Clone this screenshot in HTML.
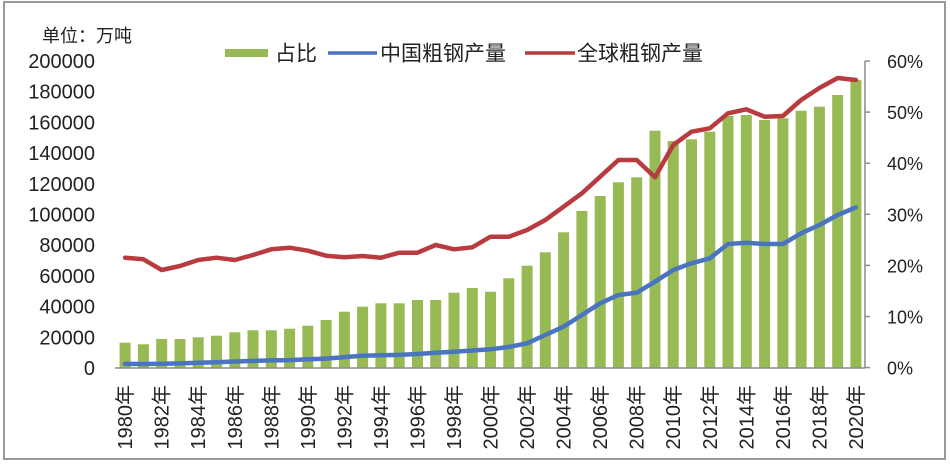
<!DOCTYPE html>
<html>
<head>
<meta charset="utf-8">
<style>
  html,body{margin:0;padding:0;background:#fff;}
  svg{display:block;}
  text{font-family:"Liberation Sans","Noto Sans CJK SC",sans-serif;fill:#222;}
</style>
</head>
<body>
<svg width="950" height="464" viewBox="0 0 950 464" xmlns="http://www.w3.org/2000/svg">
  <rect x="0" y="0" width="950" height="464" fill="#fff"/>
  <rect x="4" y="2" width="941" height="457" fill="#fff" stroke="#9a9a9a" stroke-width="2"/>

  <text x="42" y="42" font-size="18">单位：万吨</text>

  <rect x="225" y="49" width="43" height="8" fill="#97ba55"/>
  <text x="275" y="60.5" font-size="21">占比</text>
  <line x1="328" y1="53" x2="377" y2="53" stroke="#4a74c0" stroke-width="3.5"/>
  <text x="380" y="60.5" font-size="21">中国粗钢产量</text>
  <line x1="525" y1="53" x2="575" y2="53" stroke="#b83c3f" stroke-width="3.5"/>
  <text x="577" y="60.5" font-size="21">全球粗钢产量</text>

  <g font-size="20" text-anchor="end">
    <text x="95" y="68">200000</text>
    <text x="95" y="98.7">180000</text>
    <text x="95" y="129.4">160000</text>
    <text x="95" y="160.1">140000</text>
    <text x="95" y="190.8">120000</text>
    <text x="95" y="221.5">100000</text>
    <text x="95" y="252.2">80000</text>
    <text x="95" y="282.9">60000</text>
    <text x="95" y="313.6">40000</text>
    <text x="95" y="344.3">20000</text>
    <text x="95" y="375">0</text>
  </g>

  <g font-size="18">
    <text x="887" y="68">60%</text>
    <text x="887" y="119.1">50%</text>
    <text x="887" y="170.2">40%</text>
    <text x="887" y="221.3">30%</text>
    <text x="887" y="272.4">20%</text>
    <text x="887" y="323.5">10%</text>
    <text x="887" y="374.6">0%</text>
  </g>

  <g stroke="#8c8c8c" stroke-width="1.5">
    <line x1="865" y1="61" x2="865" y2="368"/>
    <line x1="865" y1="61" x2="870" y2="61"/>
    <line x1="865" y1="112.1" x2="870" y2="112.1"/>
    <line x1="865" y1="163.2" x2="870" y2="163.2"/>
    <line x1="865" y1="214.3" x2="870" y2="214.3"/>
    <line x1="865" y1="265.4" x2="870" y2="265.4"/>
    <line x1="865" y1="316.5" x2="870" y2="316.5"/>
    <line x1="865" y1="367.6" x2="870" y2="367.6"/>
  </g>

  <g fill="#97ba55">
    <rect x="119.6" y="342.7" width="11" height="25.3"/>
    <rect x="137.9" y="344.3" width="11" height="23.7"/>
    <rect x="156.2" y="339" width="11" height="29"/>
    <rect x="174.5" y="339" width="11" height="29"/>
    <rect x="192.7" y="337.3" width="11" height="30.7"/>
    <rect x="211.0" y="335.7" width="11" height="32.3"/>
    <rect x="229.3" y="332.3" width="11" height="35.7"/>
    <rect x="247.5" y="330.3" width="11" height="37.7"/>
    <rect x="265.8" y="330.3" width="11" height="37.7"/>
    <rect x="284.1" y="328.7" width="11" height="39.3"/>
    <rect x="302.3" y="325.7" width="11" height="42.3"/>
    <rect x="320.6" y="320" width="11" height="48"/>
    <rect x="338.9" y="311.7" width="11" height="56.3"/>
    <rect x="357.1" y="306.7" width="11" height="61.3"/>
    <rect x="375.4" y="303.3" width="11" height="64.7"/>
    <rect x="393.7" y="303.3" width="11" height="64.7"/>
    <rect x="412.0" y="300" width="11" height="68"/>
    <rect x="430.2" y="300" width="11" height="68"/>
    <rect x="448.5" y="292.7" width="11" height="75.3"/>
    <rect x="466.8" y="288" width="11" height="80"/>
    <rect x="485.0" y="291.7" width="11" height="76.3"/>
    <rect x="503.3" y="278.3" width="11" height="89.7"/>
    <rect x="521.6" y="265.7" width="11" height="102.3"/>
    <rect x="539.8" y="252.3" width="11" height="115.7"/>
    <rect x="558.1" y="232.3" width="11" height="135.7"/>
    <rect x="576.4" y="211" width="11" height="157"/>
    <rect x="594.7" y="196" width="11" height="172"/>
    <rect x="612.9" y="182.3" width="11" height="185.7"/>
    <rect x="631.2" y="177.3" width="11" height="190.7"/>
    <rect x="649.5" y="130.7" width="11" height="237.3"/>
    <rect x="667.7" y="141" width="11" height="227"/>
    <rect x="686.0" y="139.3" width="11" height="228.7"/>
    <rect x="704.3" y="131.7" width="11" height="236.3"/>
    <rect x="722.5" y="116" width="11" height="252"/>
    <rect x="740.8" y="115" width="11" height="253"/>
    <rect x="759.1" y="120" width="11" height="248"/>
    <rect x="777.4" y="118.3" width="11" height="249.7"/>
    <rect x="795.6" y="110.7" width="11" height="257.3"/>
    <rect x="813.9" y="106.7" width="11" height="261.3"/>
    <rect x="832.2" y="95" width="11" height="273"/>
    <rect x="850.4" y="80" width="11" height="288"/>
  </g>

  <line x1="115" y1="368" x2="865" y2="368" stroke="#8c8c8c" stroke-width="1.5"/>

  <polyline fill="none" stroke="#4a74c0" stroke-width="4.5" stroke-linejoin="round" stroke-linecap="round"
    points="125.1,363.8 143.4,364 161.7,363.8 180.0,363.4 198.2,362.8 216.5,362.3 234.8,361.5 253.0,360.9 271.3,360.4 289.6,360.1 307.8,359.3 326.1,358.6 344.4,357.1 362.6,355.8 380.9,355.3 399.2,354.9 417.5,354 435.7,352.8 454.0,351.8 472.3,350.5 490.5,349.3 508.8,347 527.1,343.3 545.3,335 563.6,326.7 581.9,315 600.2,303.3 618.4,295 636.7,292.7 655.0,281.7 673.2,270 691.5,263.3 709.8,258.3 728.0,244 746.3,242.7 764.6,244 782.9,244 801.1,233.3 819.4,225 837.7,215 855.9,207.3"/>

  <polyline fill="none" stroke="#b83c3f" stroke-width="4.5" stroke-linejoin="round" stroke-linecap="round"
    points="125.1,257.7 143.4,259.3 161.7,270 180.0,266 198.2,260 216.5,257.7 234.8,260 253.0,255 271.3,249.3 289.6,247.7 307.8,250.7 326.1,255.7 344.4,257.3 362.6,256 380.9,257.7 399.2,252.7 417.5,252.7 435.7,245 454.0,249.3 472.3,247.3 490.5,236.7 508.8,236.7 527.1,230 545.3,220 563.6,206.7 581.9,193.3 600.2,176.7 618.4,160 636.7,160 655.0,177.3 673.2,145 691.5,131.7 709.8,128.3 728.0,113.3 746.3,109.3 764.6,116.7 782.9,116 801.1,100 819.4,88 837.7,78 855.9,80"/>

  <g font-size="20" text-anchor="end">
    <text transform="translate(125.1,385) rotate(-90)" x="0" y="7">1980年</text>
    <text transform="translate(161.7,385) rotate(-90)" x="0" y="7">1982年</text>
    <text transform="translate(198.2,385) rotate(-90)" x="0" y="7">1984年</text>
    <text transform="translate(234.8,385) rotate(-90)" x="0" y="7">1986年</text>
    <text transform="translate(271.3,385) rotate(-90)" x="0" y="7">1988年</text>
    <text transform="translate(307.8,385) rotate(-90)" x="0" y="7">1990年</text>
    <text transform="translate(344.4,385) rotate(-90)" x="0" y="7">1992年</text>
    <text transform="translate(380.9,385) rotate(-90)" x="0" y="7">1994年</text>
    <text transform="translate(417.5,385) rotate(-90)" x="0" y="7">1996年</text>
    <text transform="translate(454.0,385) rotate(-90)" x="0" y="7">1998年</text>
    <text transform="translate(490.5,385) rotate(-90)" x="0" y="7">2000年</text>
    <text transform="translate(527.1,385) rotate(-90)" x="0" y="7">2002年</text>
    <text transform="translate(563.6,385) rotate(-90)" x="0" y="7">2004年</text>
    <text transform="translate(600.2,385) rotate(-90)" x="0" y="7">2006年</text>
    <text transform="translate(636.7,385) rotate(-90)" x="0" y="7">2008年</text>
    <text transform="translate(673.2,385) rotate(-90)" x="0" y="7">2010年</text>
    <text transform="translate(709.8,385) rotate(-90)" x="0" y="7">2012年</text>
    <text transform="translate(746.3,385) rotate(-90)" x="0" y="7">2014年</text>
    <text transform="translate(782.9,385) rotate(-90)" x="0" y="7">2016年</text>
    <text transform="translate(819.4,385) rotate(-90)" x="0" y="7">2018年</text>
    <text transform="translate(855.9,385) rotate(-90)" x="0" y="7">2020年</text>
  </g>
</svg>
</body>
</html>
